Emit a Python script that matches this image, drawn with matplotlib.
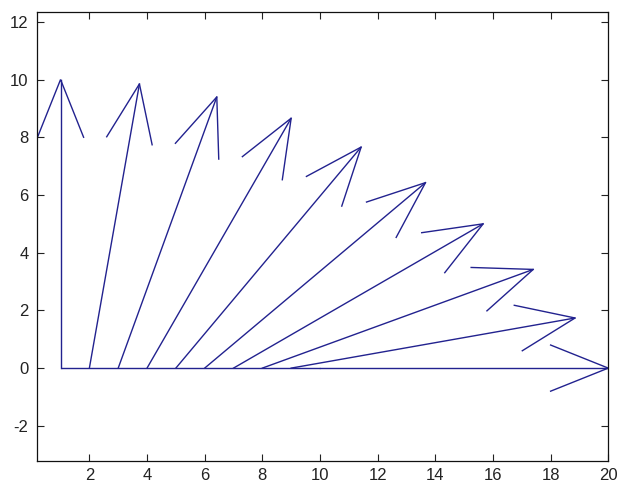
import numpy as np
import matplotlib
matplotlib.use("Agg")
import matplotlib.pyplot as plt

# Feather plot: vectors of equal magnitude emanating from evenly spaced points on y = 0
x_start = [1, 2, 3, 4, 5, 6, 7, 8, 9, 10]
angle_deg = [90, 80, 70, 60, 50, 40, 30, 20, 10, 0]
magnitude = [10, 10, 10, 10, 10, 10, 10, 10, 10, 10]
x_ticks = [2, 4, 6, 8, 10, 12, 14, 16, 18, 20]
y_ticks = [-2, 0, 2, 4, 6, 8, 10, 12]

line_color = "#22228f"
HEAD_BACK = 0.2     # arrowhead length as fraction of vector length
HEAD_HALF = 0.08    # arrowhead half-width as fraction of vector length

plt.rcParams["font.family"] = ["Liberation Sans", "DejaVu Sans"]
plt.rcParams["axes.unicode_minus"] = False

fig = plt.figure(figsize=(6.30, 4.83), dpi=100)
fig.patch.set_facecolor("white")
ax = fig.add_axes([0.0595, 0.0455, 0.906, 0.929])

x0 = np.asarray(x_start, dtype=float)
th = np.deg2rad(np.asarray(angle_deg, dtype=float))
r = np.asarray(magnitude, dtype=float)
u = r * np.cos(th)
v = r * np.sin(th)

# baseline along the horizontal axis
ax.plot([x0[0], x0[-1]], [0, 0], color=line_color, lw=1.0, solid_capstyle="butt")

for xs, uu, vv in zip(x0, u, v):
    tip = np.array([xs + uu, vv])
    base = np.array([xs, 0.0])
    d = np.array([uu, vv])
    perp = np.array([-vv, uu])
    back = tip - HEAD_BACK * d
    h1 = back + HEAD_HALF * perp
    h2 = back - HEAD_HALF * perp
    ax.plot([base[0], tip[0]], [base[1], tip[1]], color=line_color, lw=1.0)
    ax.plot([h1[0], tip[0], h2[0]], [h1[1], tip[1], h2[1]], color=line_color, lw=1.0,
            solid_joinstyle="miter")

ax.set_xlim(0.2, 20)
ax.set_ylim(-3.22, 12.33)
ax.set_xticks(x_ticks)
ax.set_yticks(y_ticks)
ax.tick_params(direction="in", length=5, width=0.8, top=True, right=True,
               labelsize=12, colors="#222222")
ax.tick_params(axis="x", pad=5)
ax.tick_params(axis="y", pad=6.5)
for s in ax.spines.values():
    s.set_linewidth(0.9)
    s.set_color("#111111")

fig.savefig("out.png", dpi=100, facecolor="white")
